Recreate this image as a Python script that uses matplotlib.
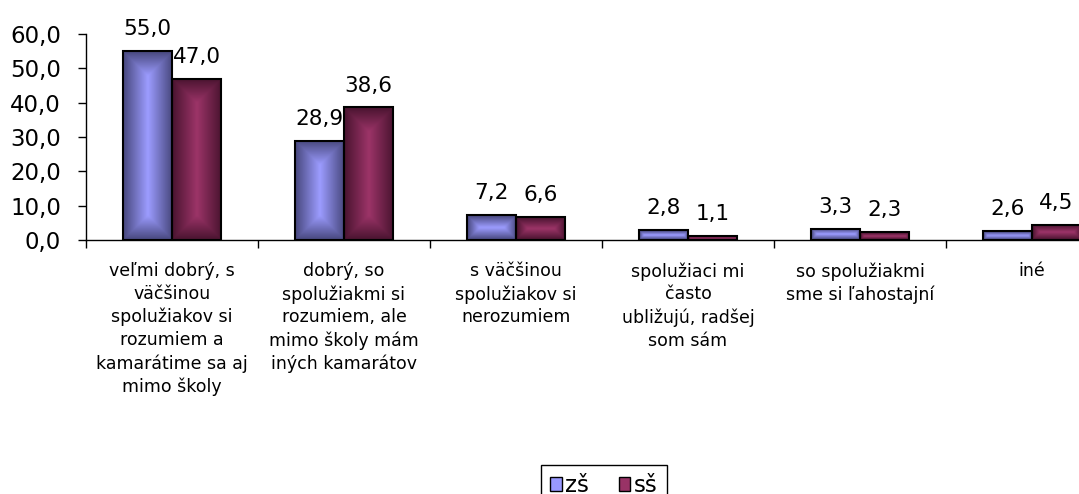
import numpy as np
import matplotlib.pyplot as plt
from matplotlib.colors import LinearSegmentedColormap
from matplotlib.patches import Patch
from matplotlib.ticker import FuncFormatter

# hodnoty v percentách
kategorie = [
    "veľmi dobrý, s\nväčšinou\nspolužiakov si\nrozumiem a\nkamarátime sa aj\nmimo školy",
    "dobrý, so\nspolužiakmi si\nrozumiem, ale\nmimo školy mám\niných kamarátov",
    "s väčšinou\nspolužiakov si\nnerozumiem",
    "spolužiaci mi\nčasto\nubližujú, radšej\nsom sám",
    "so spolužiakmi\nsme si ľahostajní",
    "iné",
]
zs = [55.0, 28.9, 7.2, 2.8, 3.3, 2.6]
ss = [47.0, 38.6, 6.6, 1.1, 2.3, 4.5]
serie = ["zš", "sš"]

plt.rcParams['font.family'] = ['DejaVu Sans']

W, H = 1079, 494
fig = plt.figure(figsize=(W / 100, H / 100), dpi=100, facecolor="white")
ax = fig.add_axes([86 / W, 1 - 240 / H, 1032 / W, 206 / H])
n = len(kategorie)
ax.set_xlim(0, n)
ax.set_ylim(0, 60)

sirka = 0.285
x = np.arange(n) + 0.5


def tienovanie(ax, bars, tmava, svetla):
    # prechod od stredu stĺpca k okrajom
    cmap = LinearSegmentedColormap.from_list("g", [tmava, svetla])
    sx = ax.bbox.width / n
    sy = ax.bbox.height / 60
    for b in bars:
        w = b.get_width() * sx
        h = b.get_height() * sy
        nx = max(int(w), 2)
        ny = max(int(h), 2)
        xx = np.abs(np.linspace(-w / 2, w / 2, nx))
        yy = np.abs(np.linspace(-h / 2, h / 2, ny))
        d = np.minimum(w / 2 - xx[None, :], h / 2 - yy[:, None])
        t = np.clip(d / (min(w, h) / 2), 0, 1)
        im = ax.imshow(t, cmap=cmap, vmin=0, vmax=1,
                       extent=[b.get_x(), b.get_x() + b.get_width(), 0, b.get_height()],
                       aspect="auto", origin="lower", interpolation="bilinear", zorder=1)
        im.set_clip_path(b)


b1 = ax.bar(x - sirka / 2, zs, sirka, facecolor="none", edgecolor="black", linewidth=1.5, zorder=2)
b2 = ax.bar(x + sirka / 2, ss, sirka, facecolor="none", edgecolor="black", linewidth=1.5, zorder=2)
tienovanie(ax, b1, "#48487e", "#9c9cff")
tienovanie(ax, b2, "#4a1430", "#9c3468")

for xs, vals in ((x - sirka / 2, zs), (x + sirka / 2, ss)):
    for xi, v in zip(xs, vals):
        ax.annotate(f"{v:.1f}".replace(".", ","), (xi, v), xytext=(0, 11.5),
                    textcoords="offset points", ha="center", va="baseline", fontsize=15.5)

ax.set_xlim(0, n)
ax.set_ylim(0, 60)

ax.spines["top"].set_visible(False)
ax.spines["right"].set_visible(False)
ax.spines["left"].set_linewidth(1)
ax.spines["bottom"].set_linewidth(1)

ax.set_yticks(range(0, 61, 10))
ax.yaxis.set_major_formatter(FuncFormatter(lambda v, p: f"{v:.1f}".replace(".", ",")))
ax.tick_params(axis="y", direction="out", length=6, width=1, pad=12, labelsize=16.5)

ax.set_xticks(range(0, n + 1))
ax.set_xticklabels([])
ax.set_xticks(x, minor=True)
ax.set_xticklabels(kategorie, minor=True, fontsize=12.5, linespacing=1.34)
ax.tick_params(axis="x", which="major", direction="out", length=6, width=1)
ax.tick_params(axis="x", which="minor", length=0, pad=16)

leg = fig.legend(handles=[Patch(facecolor="#9999ff", edgecolor="black", linewidth=1),
                          Patch(facecolor="#993366", edgecolor="black", linewidth=1)],
                 labels=serie, loc="upper center", bbox_to_anchor=(604 / W, 1 - 465 / H),
                 ncol=2, frameon=True, fancybox=False, edgecolor="black", framealpha=1,
                 fontsize=16.5, handlelength=0.5, handleheight=0.5, handletextpad=0.15,
                 columnspacing=1.3, borderpad=0.4, borderaxespad=0)
leg.get_frame().set_linewidth(1)

fig.savefig("out.png", dpi=100)
